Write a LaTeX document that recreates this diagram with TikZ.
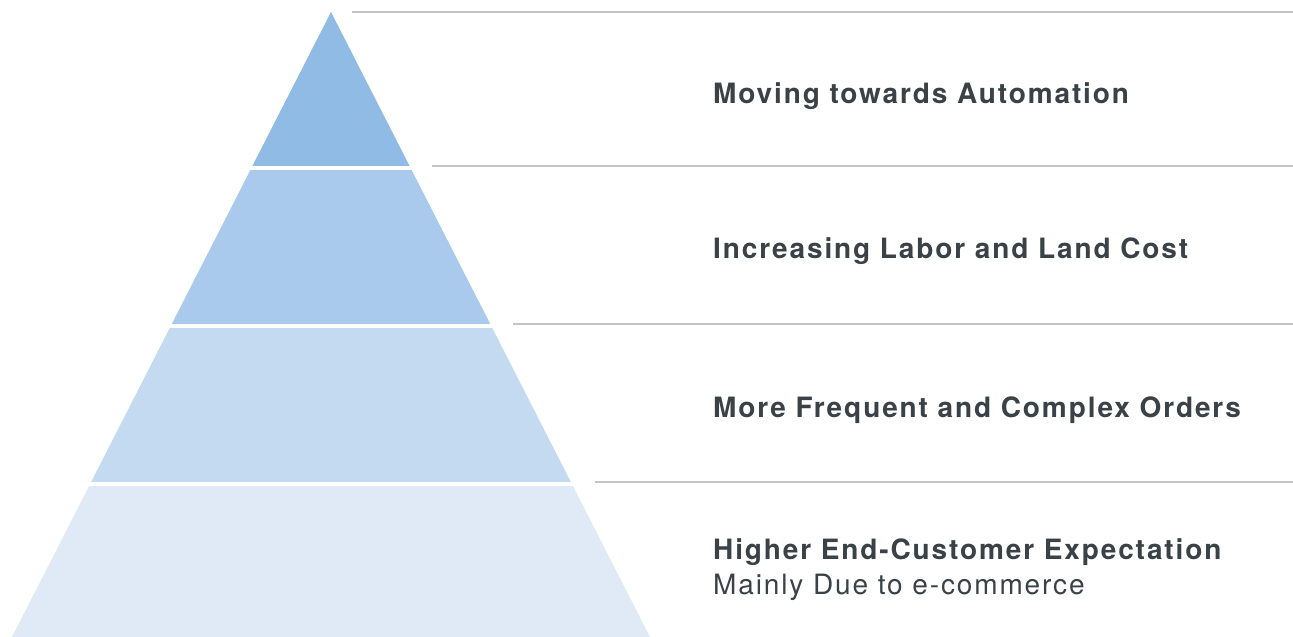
\documentclass[tikz,border=0pt]{standalone}
\usepackage{fontspec}
\setmainfont{TeX Gyre Heros}
\newfontfamily\labelfont[LetterSpace=6.7]{TeX Gyre Heros}
\definecolor{tierA}{HTML}{8FBBE4}
\definecolor{tierB}{HTML}{A9CAEC}
\definecolor{tierC}{HTML}{C4DAF0}
\definecolor{tierD}{HTML}{DFEAF6}
\definecolor{rulegray}{HTML}{C4C4C4}
\definecolor{txt}{HTML}{3A4247}
\begin{document}
\begin{tikzpicture}[x=1pt,y=-1pt,
  rulel/.style={draw=rulegray,line width=1.3pt},
  gapl/.style={draw=white,line width=4pt},
  lbl/.style={anchor=base west,inner sep=0pt,text=txt,font=\labelfont\fontsize{28}{32}\selectfont\bfseries},
  sublbl/.style={anchor=base west,inner sep=0pt,text=txt,font=\labelfont\fontsize{28}{32}\selectfont}]
\useasboundingbox (0,0) rectangle (1293,637);
% apex and base
\coordinate (apex) at (331,12);
\coordinate (bl) at (12,637);
\coordinate (br) at (650,637);
% tier boundaries
\path (apex) -- (bl) coordinate[pos=0.2496] (l1) coordinate[pos=0.5024] (l2) coordinate[pos=0.7552] (l3);
\path (apex) -- (br) coordinate[pos=0.2496] (r1) coordinate[pos=0.5024] (r2) coordinate[pos=0.7552] (r3);
\fill[tierD] (l3) -- (bl) -- (br) -- (r3) -- cycle;
\fill[tierC] (l2) -- (l3) -- (r3) -- (r2) -- cycle;
\fill[tierB] (l1) -- (l2) -- (r2) -- (r1) -- cycle;
\fill[tierA] (apex) -- (l1) -- (r1) -- cycle;
\draw[gapl] ([xshift=-5pt]l1) -- ([xshift=5pt]r1);
\draw[gapl] ([xshift=-5pt]l2) -- ([xshift=5pt]r2);
\draw[gapl] ([xshift=-5pt]l3) -- ([xshift=5pt]r3);
% rules
\coordinate (g0a) at (352,12);  \coordinate (g0b) at (1293,12);
\coordinate (g1a) at (432,166); \coordinate (g1b) at (1293,166);
\coordinate (g2a) at (513,324); \coordinate (g2b) at (1293,324);
\coordinate (g3a) at (595,482); \coordinate (g3b) at (1293,482);
\draw[rulel] (g0a) -- (g0b);
\draw[rulel] (g1a) -- (g1b);
\draw[rulel] (g2a) -- (g2b);
\draw[rulel] (g3a) -- (g3b);
% labels
\node[lbl] (t1) at (713,103) {Moving towards Automation};
\node[lbl] (t2) at (713,258) {Increasing Labor and Land Cost};
\node[lbl] (t3) at (713,417) {More Frequent and Complex Orders};
\node[lbl] (t4) at (713,559) {Higher End-Customer Expectation};
\node[sublbl] (t5) at (713,594) {Mainly Due to e-commerce};
\end{tikzpicture}
\end{document}
